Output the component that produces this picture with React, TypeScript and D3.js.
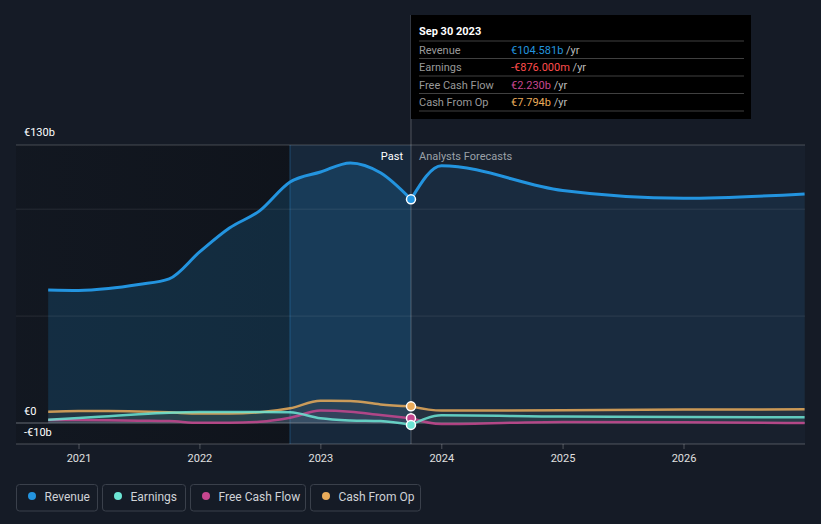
import React from "react";
import * as d3 from "d3";

const pastDates = [
  "2020-09-30", "2020-12-31", "2021-03-31", "2021-06-30", "2021-09-30", "2021-12-31",
  "2022-03-31", "2022-06-30", "2022-09-30", "2022-12-31", "2023-03-31", "2023-06-30", "2023-09-30",
];
const forecastDates = ["2023-09-30", "2023-12-31", "2024-12-31", "2025-12-31", "2026-12-31"];

const revenuePast = [62.2, 62.0, 62.9, 64.8, 67.4, 80.0, 91.2, 99.2, 112.7, 117.4, 121.6, 117.0, 104.581];
const revenueForecast = [104.581, 120.3, 108.7, 105.1, 107.1];
const earningsPast = [1.5, 2.3, 3.2, 4.1, 4.8, 5.1, 5.1, 5.2, 5.0, 2.2, 1.2, 0.9, -0.876];
const earningsForecast = [-0.876, 3.6, 3.0, 2.8, 2.7];
const fcfPast = [1.4, 1.4, 1.3, 1.1, 0.9, 0.1, 0.1, 0.6, 2.5, 5.8, 5.3, 3.7, 2.23];
const fcfForecast = [2.23, -0.5, 0.5, 0.3, 0.0];
const cfoPast = [5.3, 5.6, 5.6, 5.4, 5.0, 4.4, 4.4, 5.0, 6.9, 10.4, 10.3, 8.7, 7.794];
const cfoForecast = [7.794, 5.8, 6.0, 6.3, 6.4];

const yTicks = [
  { v: 130, label: "€130b" },
  { v: 0, label: "€0" },
  { v: -10, label: "-€10b" },
];
const yGrid = [100, 50];
const xTickYears = [2021, 2022, 2023, 2024, 2025, 2026];

const COLORS = {
  revenue: "#2394df",
  earnings: "#6ce5d4",
  fcf: "#c7468f",
  cfo: "#e9ab5a",
};

const legendItems = [
  { label: "Revenue", color: COLORS.revenue },
  { label: "Earnings", color: COLORS.earnings },
  { label: "Free Cash Flow", color: COLORS.fcf },
  { label: "Cash From Op", color: COLORS.cfo },
];

const tooltipRows = [
  { label: "Revenue", value: "€104.581b", color: "#2394df" },
  { label: "Earnings", value: "-€876.000m", color: "#ff4d4d" },
  { label: "Free Cash Flow", value: "€2.230b", color: "#c7468f" },
  { label: "Cash From Op", value: "€7.794b", color: "#e9ab5a" },
];

const W = 821;
const H = 524;
const FONT = "Roboto, 'Open Sans', sans-serif";

type Pt = { d: Date; v: number };
const parse = d3.timeParse("%Y-%m-%d");
const mk = (dates: string[], vals: number[]): Pt[] =>
  dates.map((s, i) => ({ d: parse(s) as Date, v: vals[i] }));

export default function App() {
  const x = d3
    .scaleTime()
    .domain([new Date(2021, 0, 1), new Date(2026, 0, 1)])
    .range([79, 684]);
  const y = d3.scaleLinear().domain([-10, 130]).range([444.4, 145]);

  const left = 16;
  const right = 805;
  const top = 145;
  const bottom = 444;
  const nowX = x(parse("2023-09-30") as Date);
  const bandX = x(parse("2022-09-30") as Date);

  const line = d3
    .line<Pt>()
    .x((p) => x(p.d))
    .y((p) => y(p.v))
    .curve(d3.curveMonotoneX);
  const area = d3
    .area<Pt>()
    .x((p) => x(p.d))
    .y0(y(0))
    .y1((p) => y(p.v))
    .curve(d3.curveMonotoneX);

  const series = [
    { key: "cfo", past: mk(pastDates, cfoPast), fc: mk(forecastDates, cfoForecast), color: COLORS.cfo },
    { key: "fcf", past: mk(pastDates, fcfPast), fc: mk(forecastDates, fcfForecast), color: COLORS.fcf },
    { key: "earnings", past: mk(pastDates, earningsPast), fc: mk(forecastDates, earningsForecast), color: COLORS.earnings },
  ];
  const revPast = mk(pastDates, revenuePast);
  const revFc = mk(forecastDates, revenueForecast);

  const legendWidths = [81, 83, 115, 110];
  let lx = 16.5;
  const legendPos = legendWidths.map((w) => {
    const p = lx;
    lx += w + 5;
    return p;
  });

  const labelOffset = (v: number) => (v === 130 ? -9 : v === 0 ? -8 : -8);

  return (
    <svg width={W} height={H} style={{ position: "absolute", left: 0, top: 0, background: "#151b26", fontFamily: FONT }}>
      <defs>
        <linearGradient id="pastBg" x1="0" x2="1" y1="0" y2="0">
          <stop offset="0" stopColor="#10151d" stopOpacity="0.6" />
          <stop offset="1" stopColor="#0e1219" stopOpacity="0.8" />
        </linearGradient>
      </defs>
      <rect x={0} y={0} width={W} height={H} fill="#151b26" />
      <rect x={left} y={top} width={bandX - left} height={bottom - top} fill="url(#pastBg)" />
      <rect x={nowX} y={top} width={right - nowX} height={bottom - top} fill="#18202d" />
      <rect x={bandX} y={top} width={nowX - bandX} height={bottom - top} fill="#17283b" />
      <line x1={bandX} x2={bandX} y1={top} y2={bottom} stroke="#1f4a6e" strokeWidth={1} />

      <path d={area(revPast) || ""} fill="#2394df" fillOpacity={0.18} />
      <path d={area(revFc) || ""} fill="#2394df" fillOpacity={0.1} />

      {yGrid.map((v) => (
        <line key={v} x1={left} x2={right} y1={y(v)} y2={y(v)} stroke="#ffffff" strokeOpacity={0.09} />
      ))}
      <line x1={left} x2={right} y1={y(130)} y2={y(130)} stroke="#ffffff" strokeOpacity={0.22} />

      {series.map((s) => (
        <g key={s.key + "a"}>
          <path d={area(s.past) || ""} fill={s.color} fillOpacity={0.08} />
          <path d={area(s.fc) || ""} fill={s.color} fillOpacity={0.06} />
        </g>
      ))}
      <line x1={left} x2={right} y1={y(0)} y2={y(0)} stroke="#8a8f98" strokeOpacity={0.7} strokeWidth={1} />

      {series.map((s) => (
        <g key={s.key}>
          <path d={line(s.past) || ""} fill="none" stroke={s.color} strokeWidth={2.5} strokeOpacity={0.85} />
          <path d={line(s.fc) || ""} fill="none" stroke={s.color} strokeWidth={2.5} strokeOpacity={0.85} />
        </g>
      ))}
      <path d={line(revPast) || ""} fill="none" stroke={COLORS.revenue} strokeWidth={3} />
      <path d={line(revFc) || ""} fill="none" stroke={COLORS.revenue} strokeWidth={3} />

      <line x1={nowX} x2={nowX} y1={15} y2={bottom} stroke="#ffffff" strokeOpacity={0.25} />

      {[
        { v: 104.581, c: COLORS.revenue },
        { v: 7.794, c: COLORS.cfo },
        { v: 2.23, c: COLORS.fcf },
        { v: -0.876, c: COLORS.earnings },
      ].map((p, i) => (
        <circle key={i} cx={nowX} cy={y(p.v)} r={4.5} fill={p.c} stroke="#ffffff" strokeWidth={1.5} />
      ))}

      <text x={nowX - 8} y={160} textAnchor="end" fill="#ffffff" fontSize={11}>Past</text>
      <text x={nowX + 8} y={160} fill="#9ba0a8" fontSize={11}>Analysts Forecasts</text>

      {yTicks.map((t) => (
        <text key={t.v} x={24} y={y(t.v) + labelOffset(t.v)} fill="#ffffff" fontSize={11}>
          {t.label}
        </text>
      ))}

      <line x1={left} x2={right} y1={bottom} y2={bottom} stroke="#ffffff" strokeOpacity={0.25} />
      {xTickYears.map((yr) => {
        const px = x(new Date(yr, 0, 1));
        return (
          <g key={yr}>
            <line x1={px} x2={px} y1={bottom} y2={bottom + 5} stroke="#ffffff" strokeOpacity={0.25} />
            <text x={px} y={bottom + 18} textAnchor="middle" fill="#e0e0e0" fontSize={11}>
              {yr}
            </text>
          </g>
        );
      })}

      <rect x={nowX} y={15} width={340} height={104} fill="#000000" />
      <text x={nowX + 8} y={35} fill="#ffffff" fontSize={11} fontWeight="bold">Sep 30 2023</text>
      {tooltipRows.map((r, i) => {
        const ly = 41 + i * 17.5;
        return (
          <g key={r.label}>
            <line x1={nowX + 8} x2={nowX + 333} y1={ly} y2={ly} stroke="#ffffff" strokeOpacity={0.25} />
            <text x={nowX + 8} y={ly + 12.5} fill="#999999" fontSize={11}>{r.label}</text>
            <text x={nowX + 100} y={ly + 12.5} fontSize={11}>
              <tspan fill={r.color}>{r.value}</tspan>
              <tspan fill="#bbbbbb"> /yr</tspan>
            </text>
          </g>
        );
      })}
      <line x1={nowX + 8} x2={nowX + 333} y1={111} y2={111} stroke="#ffffff" strokeOpacity={0.25} />

      {legendItems.map((it, i) => (
        <g key={it.label} transform={`translate(${legendPos[i]},484.5)`}>
          <rect x={0} y={0} width={legendWidths[i]} height={26.5} rx={3} fill="none" stroke="#3a404b" />
          <circle cx={15.5} cy={11.5} r={4} fill={it.color} />
          <text x={28} y={16} fill="#cfd2d6" fontSize={12}>{it.label}</text>
        </g>
      ))}
    </svg>
  );
}
